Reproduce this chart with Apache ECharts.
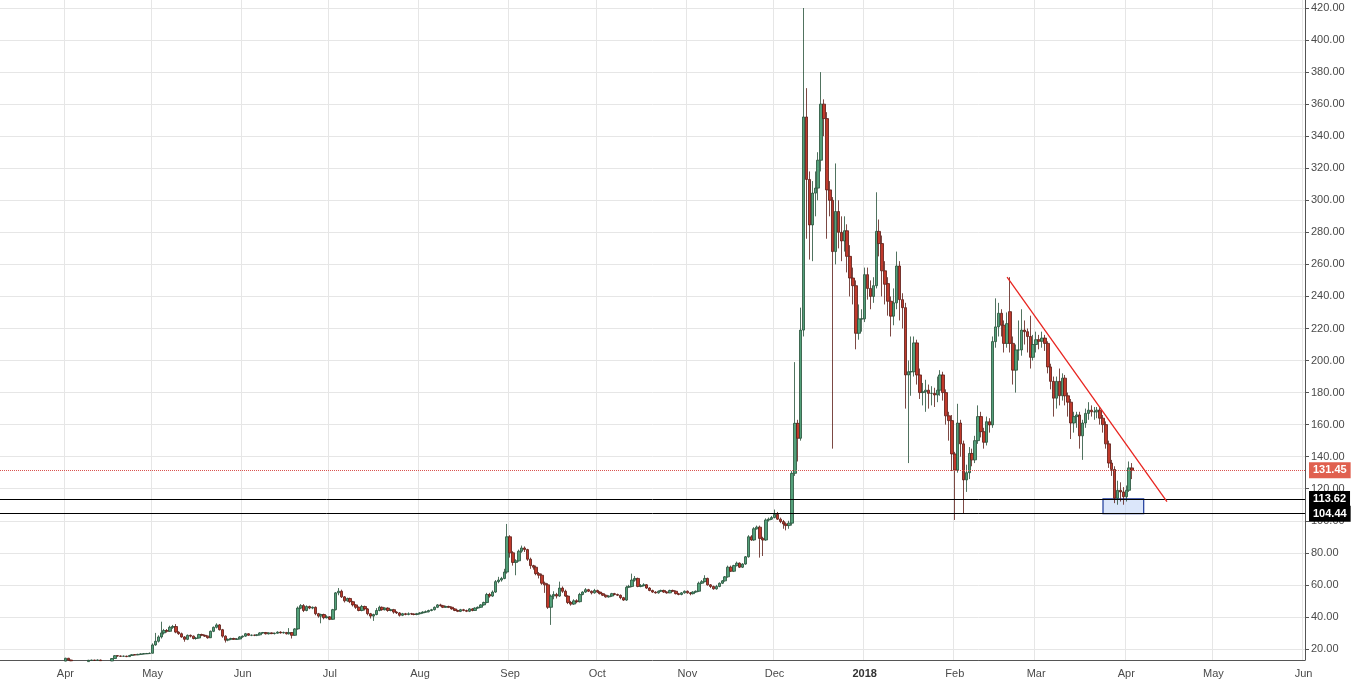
<!DOCTYPE html>
<html>
<head>
<meta charset="utf-8">
<script src="https://cdn.jsdelivr.net/npm/echarts@6/dist/echarts.min.js"></script>
<style>html,body{margin:0;padding:0;background:#fff}#main{width:1353px;height:686px}</style>
</head>
<body>
<div id="main"></div>
<script>
// daily candles from 2017-03-30, rows are [open, close, low, high]
var dataStart = "2017-03-30";
var ohlc = [
  [12.2,12.0,11.8,12.5],[12.0,12.4,11.9,12.8],
  // Apr 2017
  [12.4,14.2,12.3,14.5],[14.2,13.1,12.9,14.4],[13.1,12.6,12.4,13.3],[12.6,12.8,12.3,13.0],[12.8,12.2,12.0,13.0],
  [12.2,12.5,12.0,12.8],[12.5,12.0,11.8,12.7],[12.0,12.1,11.8,12.4],[12.1,12.9,12.0,13.2],[12.9,13.0,12.6,13.3],
  [13.0,12.9,12.6,13.2],[12.9,13.1,12.7,13.4],[13.1,12.7,12.5,13.3],[12.7,12.3,12.1,12.9],[12.3,12.0,11.8,12.6],
  [12.0,12.5,11.9,12.8],[12.5,14.0,12.4,14.3],[14.0,15.8,13.9,16.2],[15.8,15.6,15.2,16.1],[15.6,15.4,15.0,15.9],
  [15.4,15.5,15.1,15.9],[15.5,15.2,14.9,15.8],[15.2,15.9,15.0,16.3],[15.9,16.4,15.7,16.8],[16.4,16.3,16.0,16.8],
  [16.3,16.6,16.1,17.0],[16.6,16.9,16.4,17.3],[16.9,17.0,16.6,17.4],[17.0,17.1,16.8,17.5],[17.1,17.3,16.9,17.8],
  // May
  [17.3,22.5,17.2,23.5],[22.5,24.8,22.0,30.0],[24.8,27.5,24.0,28.5],[27.5,30.0,26.5,37.0],[30.0,31.5,29.0,32.5],
  [31.5,31.0,30.2,32.4],[31.0,33.5,30.6,34.5],[33.5,34.0,32.5,35.0],[34.0,30.5,29.8,35.5],[30.5,29.5,28.8,31.0],
  [29.5,27.5,27.0,30.2],[27.5,26.0,24.5,28.0],[26.0,28.5,25.5,29.0],[28.5,28.0,27.2,29.0],[28.0,26.5,26.0,28.4],
  [26.5,26.8,25.8,27.5],[26.8,29.0,26.5,29.5],[29.0,28.5,28.0,29.5],[28.5,28.0,27.5,29.0],[28.0,27.0,26.4,28.4],
  [27.0,31.0,26.8,31.5],[31.0,33.5,30.5,34.0],[33.5,35.0,32.8,36.0],[35.0,32.0,31.5,35.5],[32.0,28.0,27.0,32.5],
  [28.0,25.5,24.0,28.5],[25.5,26.0,24.8,26.5],[26.0,26.5,25.5,27.0],[26.5,26.0,25.6,27.0],[26.0,26.2,25.6,26.8],
  [26.2,27.5,26.0,28.0],
  // Jun
  [27.5,28.0,27.0,28.4],[28.0,29.5,27.6,30.0],[29.5,28.5,28.2,29.8],[28.5,28.6,28.0,29.0],[28.6,28.5,28.0,29.0],
  [28.5,28.8,28.0,29.2],[28.8,30.0,28.4,30.5],[30.0,30.2,29.5,30.6],[30.2,29.5,29.0,30.6],[29.5,30.0,29.0,30.4],
  [30.0,29.6,29.2,30.4],[29.6,29.8,29.0,30.2],[29.8,30.5,29.5,31.0],[30.5,30.0,29.6,31.0],[30.0,30.3,29.6,30.8],
  [30.3,29.5,29.0,30.6],[29.5,30.2,29.0,33.0],[30.2,28.5,26.5,30.5],[28.5,32.5,28.2,33.0],[32.5,45.5,32.0,46.5],
  [45.5,47.0,44.8,48.0],[47.0,44.0,43.0,48.0],[44.0,46.5,43.5,47.2],[46.5,45.5,44.8,47.0],[45.5,46.0,44.8,46.5],
  [46.0,42.0,41.0,46.5],[42.0,40.5,39.5,42.5],[40.5,41.5,36.0,42.0],[41.5,39.5,38.5,42.0],[39.5,40.0,39.0,41.0],
  // Jul
  [40.0,38.5,38.0,40.5],[38.5,44.5,38.2,45.0],[44.5,55.0,44.0,55.5],[55.0,56.0,53.5,58.0],[56.0,52.5,51.8,57.0],
  [52.5,50.0,49.0,53.0],[50.0,51.5,49.5,52.0],[51.5,49.5,48.6,52.0],[49.5,47.5,46.5,50.0],[47.5,46.0,45.0,48.0],
  [46.0,44.0,43.5,46.5],[44.0,46.5,43.5,47.5],[46.5,45.0,44.0,47.0],[45.0,42.0,41.0,45.5],[42.0,40.5,39.0,42.5],
  [40.5,41.5,37.5,42.0],[41.5,44.0,41.0,45.5],[44.0,46.0,43.5,47.0],[46.0,44.5,43.8,46.5],[44.5,45.5,44.0,46.0],
  [45.5,44.0,43.2,46.0],[44.0,44.5,43.5,45.0],[44.5,43.0,42.0,45.0],[43.0,42.5,41.8,43.5],[42.5,41.0,40.2,43.0],
  [41.0,42.0,40.5,42.5],[42.0,41.5,41.0,42.5],[41.5,42.0,41.0,42.8],[42.0,41.8,41.2,42.5],[41.8,41.5,41.0,42.2],
  [41.5,42.0,41.0,42.5],
  // Aug
  [42.0,42.5,41.5,43.0],[42.5,43.0,42.0,43.5],[43.0,43.2,42.5,44.0],[43.2,44.0,42.8,44.5],[44.0,44.5,43.5,45.0],
  [44.5,46.0,44.0,46.5],[46.0,47.5,45.5,48.0],[47.5,47.0,46.5,48.2],[47.0,46.0,45.5,47.5],[46.0,46.5,45.6,47.0],
  [46.5,46.0,45.5,47.0],[46.0,45.0,44.5,46.5],[45.0,44.0,43.6,45.5],[44.0,43.5,43.0,44.5],[43.5,44.5,43.0,45.0],
  [44.5,44.0,43.5,45.0],[44.0,43.5,43.0,44.5],[43.5,45.0,43.0,45.5],[45.0,44.0,43.5,45.5],[44.0,45.5,43.8,46.0],
  [45.5,46.0,45.0,46.5],[46.0,47.5,45.6,48.0],[47.5,49.0,47.0,49.5],[49.0,54.0,48.5,55.0],[54.0,53.0,52.0,55.0],
  [53.0,55.5,52.5,56.5],[55.5,62.0,55.0,63.0],[62.0,63.0,61.0,65.0],[63.0,64.0,62.0,65.0],[64.0,68.0,63.5,70.0],
  [68.0,90.0,67.0,98.0],
  // Sep
  [90.0,80.0,77.0,91.0],[80.0,74.0,72.0,81.0],[74.0,75.0,66.0,76.0],[75.0,81.0,74.5,82.0],[81.0,83.0,80.0,84.5],
  [83.0,82.0,80.5,84.0],[82.0,76.0,75.0,82.5],[76.0,72.0,70.0,77.0],[72.0,71.0,69.5,72.5],[71.0,67.0,66.0,72.0],
  [67.0,66.0,64.0,68.0],[66.0,61.0,60.0,67.0],[61.0,60.0,55.0,62.0],[60.0,46.0,45.0,61.0],[46.0,53.0,35.0,54.0],
  [53.0,54.0,51.0,56.0],[54.0,53.0,51.5,55.0],[53.0,58.0,52.5,62.0],[58.0,56.0,55.0,59.0],[56.0,53.0,52.5,57.0],
  [53.0,49.0,48.0,53.5],[49.0,48.0,47.0,50.0],[48.0,50.0,47.5,51.0],[50.0,49.5,48.5,51.0],[49.5,54.0,49.0,55.0],
  [54.0,55.5,53.5,56.0],[55.5,57.0,55.0,58.0],[57.0,56.0,55.5,57.5],[56.0,55.0,54.0,56.5],[55.0,56.5,54.5,57.5],
  // Oct
  [56.5,55.5,55.0,57.0],[55.5,54.5,54.0,56.0],[54.5,53.5,53.0,55.0],[53.5,52.5,52.0,54.0],[52.5,53.0,52.0,53.5],
  [53.0,54.5,52.5,55.0],[54.5,54.0,53.5,55.0],[54.0,53.5,53.0,54.5],[53.5,52.0,51.0,54.0],[52.0,50.5,50.0,52.5],
  [50.5,58.5,50.0,59.5],[58.5,59.0,58.0,60.0],[59.0,63.0,58.5,67.0],[63.0,64.0,62.0,65.5],[64.0,59.0,58.5,64.5],
  [59.0,59.5,58.5,60.5],[59.5,60.0,59.0,61.0],[60.0,58.0,57.5,60.5],[58.0,56.5,56.0,58.5],[56.5,55.5,55.0,57.0],
  [55.5,55.0,54.5,56.0],[55.0,56.0,54.5,56.5],[56.0,56.5,55.5,57.0],[56.5,55.5,55.0,57.0],[55.5,55.0,54.5,56.0],
  [55.0,56.5,54.8,57.0],[56.5,56.0,55.5,57.0],[56.0,54.5,54.0,56.5],[54.5,54.0,53.5,55.0],[54.0,55.0,53.5,55.5],
  [55.0,56.0,54.5,56.5],
  // Nov
  [56.0,55.0,54.5,56.5],[55.0,54.5,53.5,55.5],[54.5,55.5,54.0,56.0],[55.5,56.0,55.0,56.5],[56.0,61.0,55.5,62.0],
  [61.0,62.0,60.5,63.0],[62.0,64.0,61.5,66.0],[64.0,60.0,59.5,64.5],[60.0,59.0,58.0,60.5],[59.0,57.5,57.0,59.5],
  [57.5,59.0,57.0,60.0],[59.0,61.0,58.5,61.5],[61.0,62.5,60.5,63.0],[62.5,65.0,62.0,65.5],[65.0,71.0,64.5,72.0],
  [71.0,68.5,68.0,72.0],[68.5,72.0,68.0,72.5],[72.0,73.5,71.5,74.5],[73.5,71.0,70.5,74.0],[71.0,73.0,70.5,73.5],
  [73.0,77.5,72.5,78.0],[77.5,90.0,77.0,91.0],[90.0,88.0,87.5,91.0],[88.0,95.0,87.5,96.0],[95.0,96.0,94.5,97.0],
  [96.0,89.0,77.0,97.0],[89.0,88.0,78.0,90.0],[88.0,100.5,87.5,101.5],[100.5,101.0,99.5,102.0],[101.0,102.0,100.5,103.0],
  // Dec
  [102.0,104.0,101.5,107.0],[104.0,101.0,100.5,105.5],[101.0,99.5,98.5,102.0],[99.5,98.0,95.0,100.5],[98.0,97.0,94.0,99.0],
  [97.0,98.5,95.0,100.0],[98.5,129.6,97.0,131.0],[129.6,160.8,128.0,199.0],[160.8,151.5,137.0,163.0],[151.5,219.0,150.0,233.0],
  [219.0,352.0,215.0,420.0],[352.0,313.0,276.0,370.0],[313.0,284.6,263.0,318.0],[284.6,304.5,262.0,312.0],[304.5,307.6,290.0,318.0],
  [307.6,325.0,300.0,330.0],[325.0,360.0,318.0,380.0],[360.0,351.0,340.0,363.0],[351.0,306.5,276.0,355.0],[306.5,300.0,290.0,312.0],
  [300.0,268.0,145.0,302.0],[268.0,293.0,260.0,323.0],[293.0,280.0,270.0,300.0],[280.0,274.6,262.0,290.0],[274.6,281.0,268.0,290.0],
  [281.0,265.0,255.0,285.0],[265.0,251.5,240.0,272.0],[251.5,246.7,235.0,258.0],[246.7,217.0,207.0,250.0],[217.0,226.0,213.0,235.0],
  [226.0,226.0,218.0,232.0],
  // Jan 2018
  [226.0,253.6,224.0,258.0],[253.6,245.0,238.0,258.0],[245.0,240.0,232.0,250.0],[240.0,246.7,236.0,252.0],[246.7,280.6,245.0,305.0],
  [280.6,273.0,265.0,288.0],[273.0,256.0,240.0,278.0],[256.0,247.6,235.0,262.0],[248.0,237.0,228.0,252.0],[237.0,227.7,215.0,240.0],
  [227.7,236.0,222.0,245.0],[236.0,259.0,232.0,268.0],[259.0,238.0,225.0,262.0],[238.0,233.0,220.0,242.0],[233.0,191.0,170.0,236.0],
  [191.0,193.0,136.0,200.0],[193.0,193.0,178.0,215.0],[193.0,211.0,190.0,215.0],[211.0,191.0,185.0,213.0],[191.0,180.0,176.0,195.0],
  [180.0,180.5,172.0,186.0],[180.5,181.5,168.0,188.0],[181.5,179.5,170.0,185.0],[179.5,179.5,172.0,184.0],[179.5,178.5,171.0,183.0],
  [178.5,181.5,174.0,190.0],[181.5,191.0,178.0,194.0],[191.0,180.0,175.0,193.0],[180.0,165.5,160.0,182.0],[165.5,162.5,150.0,168.0],
  [162.5,141.7,131.0,166.0],
  // Feb
  [141.7,131.6,100.5,143.0],[131.6,161.0,130.0,173.0],[161.0,148.0,140.0,163.0],[148.0,125.5,104.7,150.0],[125.5,130.0,118.0,135.0],
  [130.0,142.0,126.0,146.0],[142.0,138.0,134.0,145.0],[138.0,150.0,136.0,153.0],[150.0,165.0,148.0,172.0],[165.0,155.6,152.0,168.0],
  [155.6,149.0,145.0,158.0],[149.0,161.8,147.0,165.0],[161.8,159.8,155.0,164.0],[159.8,211.8,158.0,215.0],[211.8,221.0,208.0,238.8],
  [221.0,229.5,215.0,236.0],[229.5,222.0,215.0,232.0],[222.0,210.7,205.0,225.0],[210.7,223.0,208.0,230.0],[230.5,210.7,205.0,252.0],
  [210.7,194.0,185.0,215.0],[194.0,206.6,180.0,210.0],[206.6,206.6,200.0,225.0],[206.6,219.0,203.0,232.0],[219.0,218.0,210.0,225.0],
  [218.0,215.0,205.0,220.0],[215.0,202.0,195.0,228.0],[202.0,210.0,200.0,216.0],
  // Mar
  [210.0,213.0,205.0,218.0],[213.0,212.0,207.0,216.0],[212.0,214.0,208.0,218.0],[214.0,210.7,206.0,216.0],[210.7,196.0,192.0,212.0],
  [196.0,187.0,182.0,198.0],[187.0,176.5,165.0,190.0],[176.5,187.0,170.0,190.0],[187.0,178.0,172.0,195.0],[178.0,189.0,175.0,192.0],
  [189.0,178.0,172.0,191.0],[178.0,174.0,165.0,180.0],[174.0,161.0,151.0,176.0],[161.0,165.0,155.0,168.0],[165.0,166.0,158.0,168.0],
  [166.0,153.0,145.0,168.0],[153.0,161.0,138.0,163.0],[161.0,167.0,158.0,170.0],[167.0,169.0,163.0,174.0],[169.0,168.0,165.0,172.0],
  [168.0,168.0,163.0,171.0],[168.0,169.0,164.0,171.0],[169.0,164.0,160.0,171.0],[164.0,160.0,155.0,166.0],[160.0,148.0,145.0,162.0],
  [148.0,136.0,133.0,150.0],[136.0,132.0,128.0,138.0],[132.0,114.0,111.0,134.0],[114.0,119.0,110.0,125.0],[119.0,118.0,112.0,124.0],
  [118.0,115.0,110.0,121.0],
  // Apr
  [115.0,119.0,112.0,122.0],[119.0,133.0,118.0,137.0],[133.0,131.45,126.0,136.0]
];
var lastPrice = 131.45;
var supportLevels = [113.62, 104.44];
var priceTicks = [20,40,60,80,100,120,140,160,180,200,220,240,260,280,300,320,340,360,380,400,420];
var trendFrom = ["2018-02-19", 252], trendTo = ["2018-04-15", 112];
var boxFrom = ["2018-03-24", 104.44], boxTo = ["2018-04-07", 113.62];
var monthNames = ["Jan","Feb","Mar","Apr","May","Jun","Jul","Aug","Sep","Oct","Nov","Dec"];

function fmt(d) {
  var m = d.getUTCMonth() + 1, dd = d.getUTCDate();
  return d.getUTCFullYear() + "-" + (m < 10 ? "0" : "") + m + "-" + (dd < 10 ? "0" : "") + dd;
}
var days = [], d = new Date("2017-03-10T00:00:00Z"), end = new Date("2018-06-01T00:00:00Z");
while (d <= end) { days.push(fmt(d)); d = new Date(d.getTime() + 86400000); }
var offset = days.indexOf(dataStart);
var candles = days.map(function (day, i) {
  var k = i - offset;
  return (k >= 0 && k < ohlc.length) ? ohlc[k] : "-";
});
var isMonthStart = function (i, v) { return v.slice(8) === "01"; };

var chart = echarts.init(document.getElementById("main"));
chart.setOption({
  animation: false,
  grid: { left: 0, right: 48, top: 0, bottom: 26 },
  xAxis: {
    type: "category", data: days, boundaryGap: true,
    axisLine: { lineStyle: { color: "#555" } },
    axisTick: { interval: isMonthStart, alignWithLabel: true, lineStyle: { color: "#555" }, length: 4 },
    splitLine: { show: true, interval: isMonthStart, lineStyle: { color: "#e6e6e6" } },
    axisLabel: {
      interval: isMonthStart, color: "#4a4a4a", fontSize: 11, fontFamily: "Arial, Liberation Sans",
      formatter: function (v) {
        var m = +v.slice(5, 7);
        return m === 1 ? "{y|" + v.slice(0, 4) + "}" : monthNames[m - 1];
      },
      rich: { y: { fontWeight: "bold", fontSize: 11, color: "#333" } }
    }
  },
  yAxis: {
    type: "value", position: "right", min: 13.1, max: 425,
    axisLine: { show: true, lineStyle: { color: "#555" } },
    axisTick: { show: true, length: 4, customValues: priceTicks, lineStyle: { color: "#555" } },
    splitLine: { lineStyle: { color: "#e6e6e6" } },
    axisLabel: {
      customValues: priceTicks, color: "#4a4a4a", fontSize: 11,
      fontFamily: "Arial, Liberation Sans", margin: 6,
      formatter: function (v) { return (+v).toFixed(2); }
    }
  },
  series: [{
    type: "candlestick", data: candles, barWidth: 3,
    itemStyle: {
      color: "#53a07a", color0: "#c0392b",
      borderColor: "#244f37", borderColor0: "#5a1a14", borderWidth: 0.8
    },
    markArea: {
      silent: true,
      itemStyle: { color: "rgba(190,210,245,0.55)", borderColor: "#1d3a9a", borderWidth: 1.2 },
      data: [[{ coord: boxFrom }, { coord: boxTo }]]
    },
    markLine: {
      silent: true, symbol: "none", animation: false,
      data: [
        { yAxis: lastPrice, lineStyle: { color: "#d9534f", type: "dotted", width: 1 },
          label: { position: "end", formatter: lastPrice.toFixed(2), color: "#fff", backgroundColor: "#e0604f",
                   padding: [3, 4, 2, 4], fontSize: 11, fontWeight: "bold", distance: 4 } },
        { yAxis: supportLevels[0], lineStyle: { color: "#000", type: "solid", width: 1 },
          label: { position: "end", formatter: supportLevels[0].toFixed(2), color: "#fff", backgroundColor: "#000",
                   padding: [3, 4, 2, 4], fontSize: 11, fontWeight: "bold", distance: 4 } },
        { yAxis: supportLevels[1], lineStyle: { color: "#000", type: "solid", width: 1 },
          label: { position: "end", formatter: supportLevels[1].toFixed(2), color: "#fff", backgroundColor: "#000",
                   padding: [3, 4, 2, 4], fontSize: 11, fontWeight: "bold", distance: 4 } },
        [{ coord: trendFrom, lineStyle: { color: "#e8241f", type: "solid", width: 1.3 }, label: { show: false } },
         { coord: trendTo }]
      ]
    }
  }]
});
</script>
</body>
</html>
